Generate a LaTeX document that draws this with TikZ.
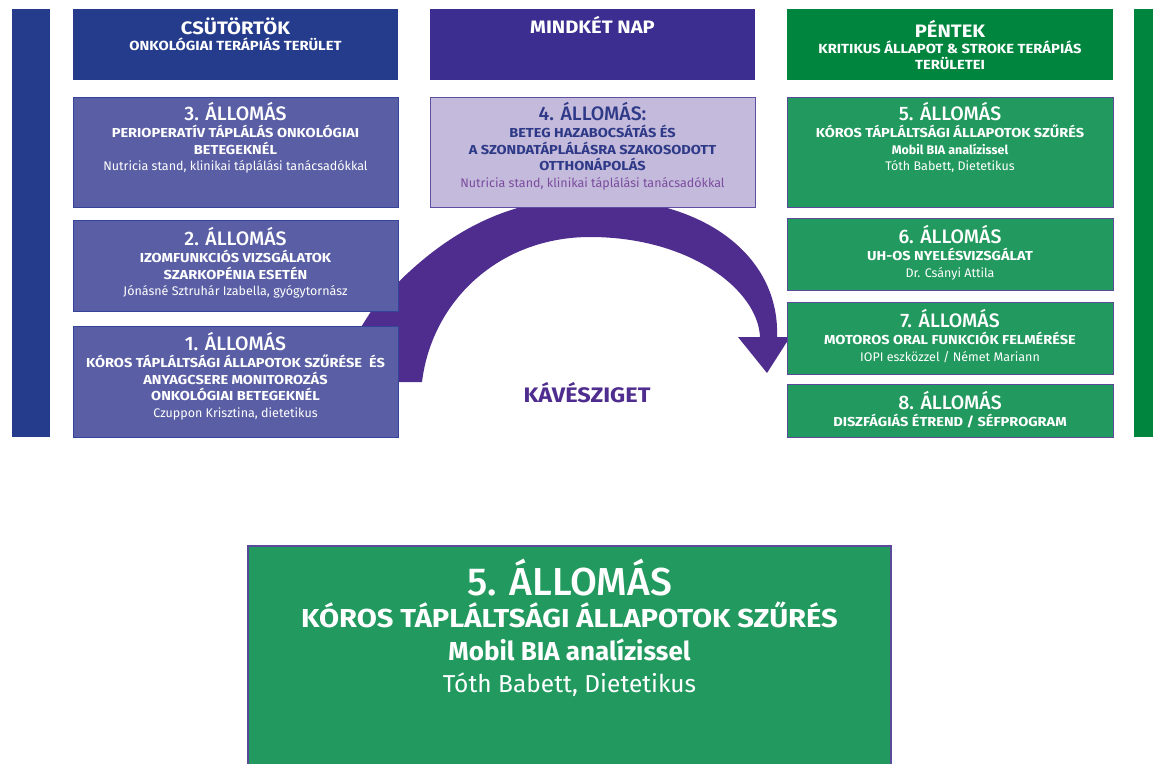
\documentclass[tikz,border=0pt]{standalone}
\usepackage{fontspec}
\setmainfont{Fira Sans}
\newfontfamily\medfont{Fira Sans Medium}
\newfontfamily\capsfont{Fira Sans Bold}[FakeStretch=1.12]
\newcommand{\stttl}{\medfont\fontsize{19.5}{19.5}\selectfont}
\newcommand{\capline}[1]{{\capsfont\fontsize{13}{16.8}\selectfont #1}}
\definecolor{dblue}{HTML}{253C8C}
\definecolor{stblue}{HTML}{5A5FA5}
\definecolor{stborder}{HTML}{34449A}
\definecolor{indigo}{HTML}{3B2E90}
\definecolor{lav}{HTML}{C4BADB}
\definecolor{lavborder}{HTML}{5E4FA0}
\definecolor{dgreen}{HTML}{00853F}
\definecolor{sgreen}{HTML}{22995E}
\definecolor{gborder}{HTML}{5B4A99}
\definecolor{arrowc}{HTML}{4F2D8F}
\definecolor{navytext}{HTML}{2E3A88}
\definecolor{purpletext}{HTML}{7A4C9E}
\begin{document}
\begin{tikzpicture}[x=1pt,y=-1pt,
  panel/.style={rectangle, anchor=north west, inner sep=0pt, outer sep=0pt},
  hdrblue/.style={panel, fill=dblue},
  hdrindigo/.style={panel, fill=indigo},
  hdrgreen/.style={panel, fill=dgreen},
  stblue/.style={panel, fill=stblue, draw=stborder, line width=0.9pt},
  stlav/.style={panel, fill=lav, draw=lavborder, line width=0.9pt},
  stgreen/.style={panel, fill=sgreen, draw=gborder, line width=0.9pt},
  txt/.style={anchor=north, inner sep=0pt, align=center, text=white, font=\fontsize{12.5}{16.8}\selectfont},
  hdrtxt/.style={anchor=north, inner sep=0pt, align=center, text=white, font=\capsfont\fontsize{13.2}{15.8}\selectfont}
]
\useasboundingbox (0,0) rectangle (1153,763);
\fill[white] (0,0) rectangle (1153,763);

% big curved arrow (drawn first, stations cover it)
\coordinate (arrL) at (422,382);
\coordinate (arrTip) at (767,373);
\fill[arrowc] (340,382) -- (arrL) .. controls (432,300) and (500,237) .. (590,237)
  .. controls (690,237) and (758,290) .. (760,337) -- (738,337) -- (arrTip) -- (790,337) -- (777,337)
  .. controls (780,260) and (710,198) .. (590,198)
  .. controls (510,198) and (440,230) .. (370,313) -- (340,360) -- cycle;

% side bars
\node[hdrblue, minimum width=38pt, minimum height=428pt] (barL) at (12,9) {};
\node[hdrgreen, minimum width=19pt, minimum height=428pt] (barR) at (1134,9) {};

% headers
\node[hdrblue, minimum width=325pt, minimum height=71pt] (hThu) at (73,9) {};
\node[hdrtxt] (hThuT) at ([yshift=-9pt]hThu.north) {{\fontsize{18}{18}\selectfont CSÜTÖRTÖK}\\ONKOLÓGIAI TERÁPIÁS TERÜLET};
\node[hdrindigo, minimum width=325pt, minimum height=71pt] (hBoth) at (430,9) {};
\node[hdrtxt] (hBothT) at ([yshift=-7pt]hBoth.north) {{\fontsize{18}{18}\selectfont MINDKÉT NAP}};
\node[hdrgreen, minimum width=326pt, minimum height=71pt] (hFri) at (787,9) {};
\node[hdrtxt] (hFriT) at ([yshift=-11pt]hFri.north) {{\fontsize{18}{18}\selectfont PÉNTEK}\\KRITIKUS ÁLLAPOT \& STROKE TERÁPIÁS\\TERÜLETEI};

% left stations
\node[stblue, minimum width=325pt, minimum height=110pt] (s3) at (73,97) {};
\node[txt] (s3t) at ([yshift=-5pt]s3.north) {{\stttl 3. ÁLLOMÁS}\\\capline{PERIOPERATÍV TÁPLÁLÁS ONKOLÓGIAI}\\\capline{BETEGEKNÉL}\\Nutricia stand, klinikai táplálási tanácsadókkal};
\node[stblue, minimum width=325pt, minimum height=91pt] (s2) at (73,220) {};
\node[txt] (s2t) at ([yshift=-7pt]s2.north) {{\stttl 2. ÁLLOMÁS}\\\capline{IZOMFUNKCIÓS VIZSGÁLATOK}\\\capline{SZARKOPÉNIA ESETÉN}\\Jónásné Sztruhár Izabella, gyógytornász};
\node[stblue, minimum width=325pt, minimum height=111pt] (s1) at (73,326) {};
\node[txt] (s1t) at ([yshift=-6pt]s1.north) {{\stttl 1. ÁLLOMÁS}\\\capline{KÓROS TÁPLÁLTSÁGI ÁLLAPOTOK SZŰRÉSE\ \ ÉS}\\\capline{ANYAGCSERE MONITOROZÁS}\\\capline{ONKOLÓGIAI BETEGEKNÉL}\\Czuppon Krisztina, dietetikus};

% middle station
\node[stlav, minimum width=325pt, minimum height=110pt] (s4) at (430,97) {};
\node[txt, text=navytext] (s4t) at ([yshift=-5pt]s4.north) {{\stttl 4. ÁLLOMÁS:}\\\capline{BETEG HAZABOCSÁTÁS ÉS}\\\capline{A SZONDATÁPLÁLÁSRA SZAKOSODOTT}\\\capline{OTTHONÁPOLÁS}\\\textcolor{purpletext}{Nutricia stand, klinikai táplálási tanácsadókkal}};

% right stations
\node[stgreen, minimum width=326pt, minimum height=110pt] (s5) at (787,97) {};
\node[txt] (s5t) at ([yshift=-5pt]s5.north) {{\stttl 5. ÁLLOMÁS}\\\capline{KÓROS TÁPLÁLTSÁGI ÁLLAPOTOK SZŰRÉS}\\{\bfseries\fontsize{12.5}{16.8}\selectfont Mobil BIA analízissel}\\Tóth Babett, Dietetikus};
\node[stgreen, minimum width=326pt, minimum height=72pt] (s6) at (787,218) {};
\node[txt] (s6t) at ([yshift=-7pt]s6.north) {{\stttl 6. ÁLLOMÁS}\\\capline{UH-OS NYELÉSVIZSGÁLAT}\\Dr. Csányi Attila};
\node[stgreen, minimum width=326pt, minimum height=72pt] (s7) at (787,302) {};
\node[txt] (s7t) at ([yshift=-7pt]s7.north) {{\stttl 7. ÁLLOMÁS}\\\capline{MOTOROS ORAL FUNKCIÓK FELMÉRÉSE}\\IOPI eszközzel / Német Mariann};
\node[stgreen, minimum width=326pt, minimum height=53pt] (s8) at (787,384) {};
\node[txt] (s8t) at ([yshift=-7pt]s8.north) {{\stttl 8. ÁLLOMÁS}\\\capline{DISZFÁGIÁS ÉTREND / SÉFPROGRAM}};

% coffee island label
\node[inner sep=0pt, text=arrowc, font=\capsfont\fontsize{21}{21}\selectfont] (kave) at (587,393) {KÁVÉSZIGET};

% enlarged station 5
\node[stgreen, line width=1.6pt, minimum width=643pt, minimum height=222pt] (big5) at (248,546) {};
\node[txt, font=\fontsize{24.5}{32.2}\selectfont] (big5t) at ([yshift=-13pt]big5.north) {{\medfont\fontsize{39}{39}\selectfont 5. ÁLLOMÁS}\\{\capsfont\fontsize{26}{32.2}\selectfont KÓROS TÁPLÁLTSÁGI ÁLLAPOTOK SZŰRÉS}\\{\bfseries\fontsize{26}{32.2}\selectfont Mobil BIA analízissel}\\Tóth Babett, Dietetikus};
\end{tikzpicture}
\end{document}
